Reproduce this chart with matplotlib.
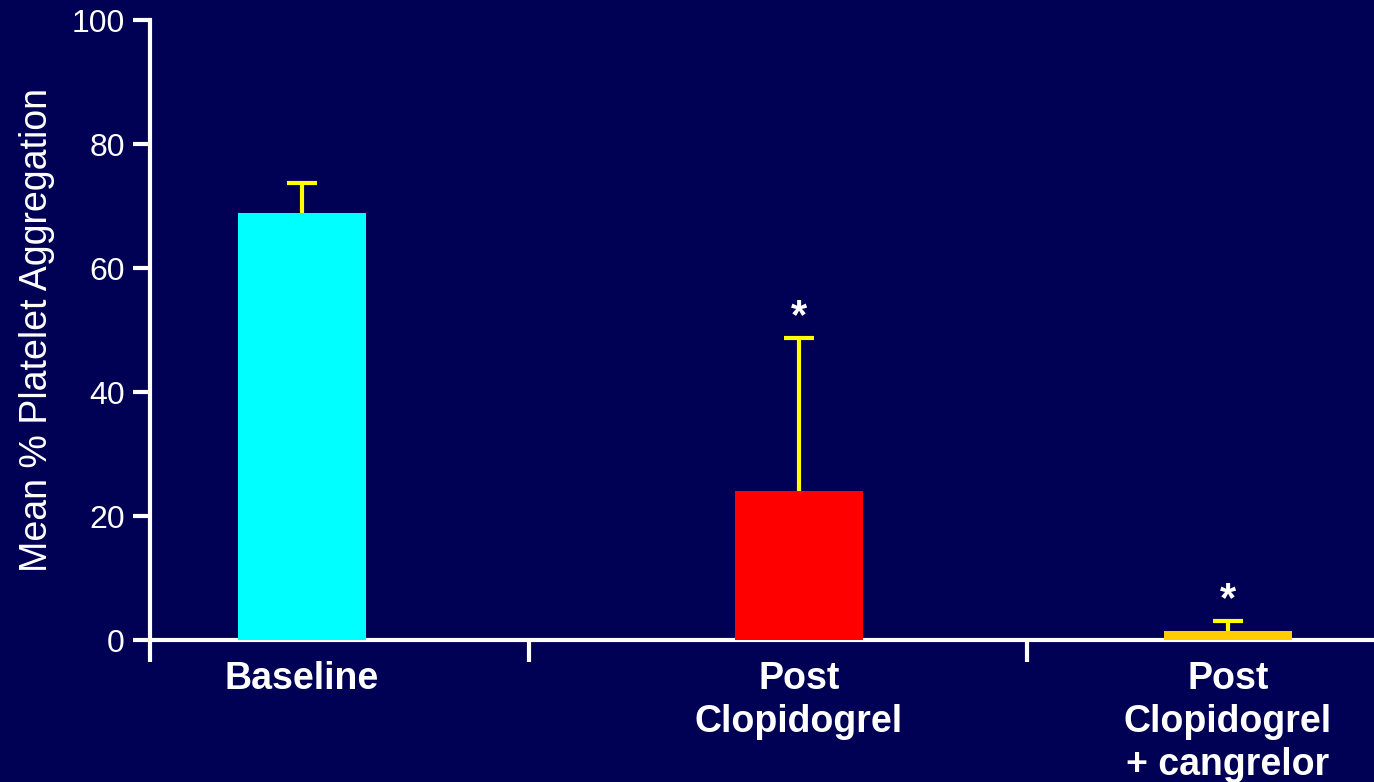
import numpy as np
import matplotlib.pyplot as plt

plt.rcParams['font.family'] = ['Liberation Sans', 'DejaVu Sans']

# Platelet aggregation by treatment stage
groups = ['Baseline', 'Post\nClopidogrel', 'Post\nClopidogrel\n+ cangrelor']
mean_agg = [68.9, 24.0, 1.5]
sd_agg = [4.8, 24.7, 1.6]
colors = ['#00ffff', '#ff0000', '#ffcc00']
significant = [False, True, True]

bg = '#000055'
pos = np.array([0.0, 1.0, 1.863])
sep = [-0.306, 0.457, 1.459]

fig = plt.figure(figsize=(13.74, 7.82), dpi=100, facecolor=bg)
ax = fig.add_axes([150 / 1374, 142 / 782, 1224 / 1374, 620 / 782])
ax.set_facecolor(bg)

# bars sit above the error bars so only the upper half shows
ax.bar(pos, mean_agg, width=0.256, color=colors, zorder=3)
ax.errorbar(pos, mean_agg, yerr=sd_agg, fmt='none',
            ecolor='#ffff00', elinewidth=3, capsize=11, capthick=3, zorder=2)

for x, m, s, sig in zip(pos, mean_agg, sd_agg, significant):
    if sig:
        ax.text(x, m + s + 3.4, '*', color='white', fontsize=30,
                fontweight='bold', ha='center', va='center')

ax.set_xlim(-0.306, 2.157)
ax.set_ylim(0, 100)
ax.set_yticks([0, 20, 40, 60, 80, 100])
ax.set_xticks(pos)
ax.set_xticklabels(groups, fontsize=27, fontweight='bold', color='white',
                   linespacing=1.25)
ax.set_xticks(sep, minor=True)
ax.tick_params(axis='x', which='major', length=0, pad=15)
ax.tick_params(axis='x', which='minor', length=16, width=3, color='white')
ax.tick_params(axis='y', length=12, width=3, color='white',
               labelcolor='white', labelsize=23, pad=6)

for side in ['top', 'right']:
    ax.spines[side].set_visible(False)
for side in ['left', 'bottom']:
    ax.spines[side].set_color('white')
    ax.spines[side].set_linewidth(3)

ax.set_ylabel('Mean % Platelet Aggregation', fontsize=27, color='white',
              labelpad=12)

fig.savefig('out.png', facecolor=bg)
